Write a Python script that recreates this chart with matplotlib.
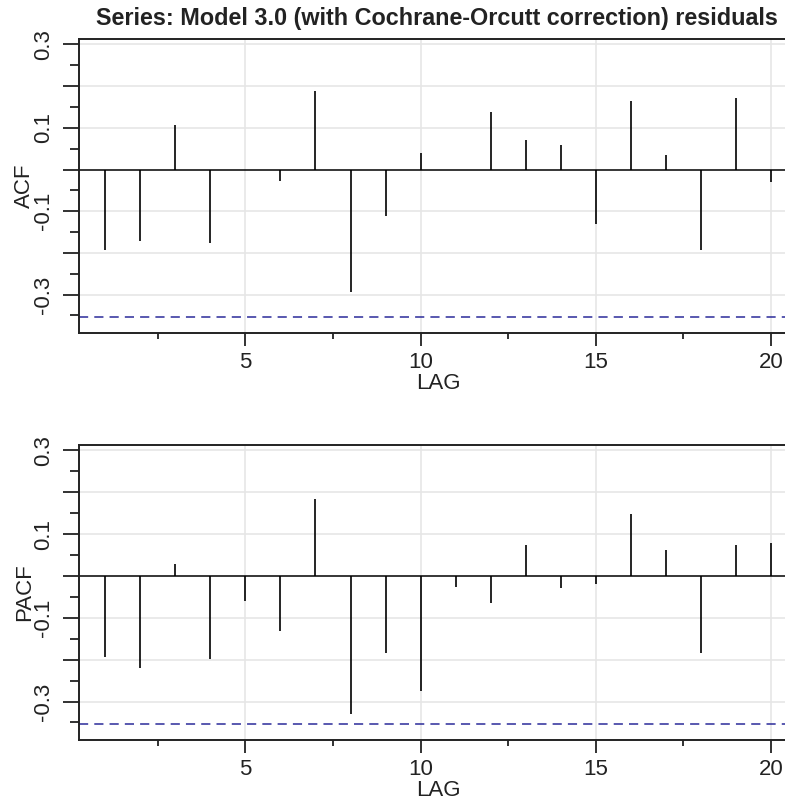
import numpy as np
import matplotlib
matplotlib.use('Agg')
import matplotlib.pyplot as plt
from matplotlib import font_manager
from matplotlib.ticker import FixedLocator, FuncFormatter

plt.rcParams['font.family'] = ['Liberation Sans', 'DejaVu Sans']

# лаги и значения
lags = list(range(1, 21))
acf_vals = [-0.193, -0.171, 0.107, -0.175, 0.0, -0.027, 0.189, -0.293, -0.112, 0.040,
            0.0, 0.139, 0.072, 0.058, -0.130, 0.165, 0.034, -0.193, 0.171, -0.031]
pacf_vals = [-0.194, -0.219, 0.029, -0.198, -0.061, -0.131, 0.184, -0.329, -0.184, -0.276,
             -0.026, -0.064, 0.074, -0.029, -0.018, 0.148, 0.063, -0.184, 0.074, 0.078]
conf_bound = -0.353
title = 'Series: Model 3.0 (with Cochrane-Orcutt correction) residuals'

# жирный Liberation Sans (не Narrow) ищем по имени файла
bold_path = None
for f in font_manager.findSystemFonts():
    if f.endswith('LiberationSans-Bold.ttf'):
        bold_path = f
        break
if bold_path:
    title_font = font_manager.FontProperties(fname=bold_path, size=16.8)
else:
    title_font = font_manager.FontProperties(family='Liberation Sans', weight='bold', size=16.8)

W, H = 785, 809
fig = plt.figure(figsize=(W / 100, H / 100), dpi=100)

def px_axes(left, top, right, bottom):
    return fig.add_axes([left / W, 1 - bottom / H, (right - left) / W, (bottom - top) / H])

ax1 = px_axes(78.7, 39, 797.5, 333)
ax2 = px_axes(78.7, 445, 797.5, 740)

for ax, vals, name in [(ax1, acf_vals, 'ACF'), (ax2, pacf_vals, 'PACF')]:
    ax.set_xlim(0.24, 20.76)
    ax.set_ylim(-0.392, 0.313)
    # сетка
    for g in [-0.3, -0.2, -0.1, 0.1, 0.2, 0.3]:
        ax.axhline(g, color='#e6e6e6', lw=1.2, zorder=0)
    for g in [5, 10, 15, 20]:
        ax.axvline(g, color='#e6e6e6', lw=1.2, zorder=0)
    ax.axhline(0, color='black', lw=1.1, zorder=2)
    ax.axhline(conf_bound, color='#2b2b9a', lw=1.1, ls=(0, (6, 4)), zorder=2)
    ax.vlines(lags, 0, vals, color='black', lw=1.2, zorder=3)

    ax.xaxis.set_major_locator(FixedLocator([5, 10, 15, 20]))
    ax.xaxis.set_minor_locator(FixedLocator([2.5, 7.5, 12.5, 17.5]))
    ax.yaxis.set_major_locator(FixedLocator([-0.3, -0.2, -0.1, 0.0, 0.1, 0.2, 0.3]))
    ax.yaxis.set_minor_locator(FixedLocator([-0.35, -0.25, -0.15, -0.05, 0.05, 0.15, 0.25]))
    ax.yaxis.set_major_formatter(FuncFormatter(
        lambda v, p: f'{v:.1f}' if round(abs(v) * 10) % 2 == 1 else ''))

    ax.tick_params(axis='both', which='major', direction='out', width=1.3, color='#222222',
                   labelsize=16, labelcolor='#222222')
    ax.tick_params(axis='y', which='major', length=11.5, pad=6)
    ax.tick_params(axis='y', which='minor', length=6.5, width=1.3, color='#222222')
    ax.tick_params(axis='x', which='major', length=9.5, pad=4)
    ax.tick_params(axis='x', which='minor', length=4.5, width=1.3, color='#222222')
    for lab in ax.get_yticklabels():
        lab.set_rotation(90)
        lab.set_va('center')

    for s in ax.spines.values():
        s.set_linewidth(1.4)
        s.set_color('#222222')
    ax.spines['right'].set_visible(False)

    ax.set_xlabel('LAG', fontsize=16, color='#222222', labelpad=0)
    ax.set_ylabel(name, fontsize=16, color='#222222', labelpad=-1)

fig.text(437 / W, 1 - 18 / H, title, ha='center', va='center',
         fontproperties=title_font, color='#222222')

fig.savefig('out.png', dpi=100)
